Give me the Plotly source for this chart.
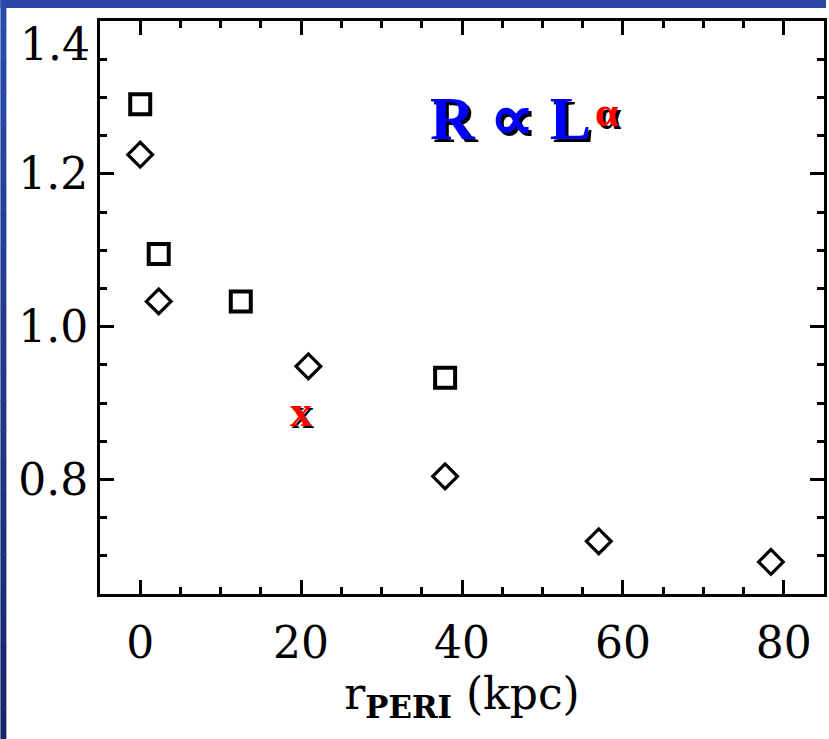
import plotly.graph_objects as go

# ---- data ----
square_x = [0.0, 2.3, 12.5, 37.9]
square_y = [1.291, 1.095, 1.033, 0.933]
diamond_x = [0.0, 2.3, 20.9, 37.9, 57.0, 78.4]
diamond_y = [1.225, 1.033, 0.948, 0.804, 0.719, 0.692]
cross_x = [20.0]
cross_y = [0.889]
x_ticks = [0, 20, 40, 60, 80]
y_ticks = [0.8, 1.0, 1.2]
y_top_label = 1.4

W, H = 829, 739
L, R, T, B = 100, 2, 21, 145
pw, ph = W - L - R, H - T - B

TICKFONT = dict(family="DejaVu Serif", size=44, color="black")

fig = go.Figure()
fig.add_trace(go.Scatter(
    x=square_x, y=square_y, mode="markers",
    marker=dict(symbol="square-open", size=20, color="black", line=dict(width=4, color="black")),
    showlegend=False, hoverinfo="skip"))
fig.add_trace(go.Scatter(
    x=diamond_x, y=diamond_y, mode="markers",
    marker=dict(symbol="diamond-open", size=19, color="black", line=dict(width=3.2, color="black")),
    showlegend=False, hoverinfo="skip"))

annotations = []
# red x marker with shadow
for cx, cy in zip(cross_x, cross_y):
    annotations.append(dict(x=cx, y=cy, xref="x", yref="y", text="<b>x</b>", showarrow=False,
                            font=dict(family="Liberation Serif", size=44, color="black"),
                            xshift=2, yshift=-2))
    annotations.append(dict(x=cx, y=cy, xref="x", yref="y", text="<b>x</b>", showarrow=False,
                            font=dict(family="Liberation Serif", size=44, color="red")))

# R ∝ L^α label with shadow
def px2paper_x(px):
    return (px - L) / pw
def px2paper_y(py):
    return (H - B - py) / ph

main_x, main_y = px2paper_x(595), px2paper_y(118)
alpha_x, alpha_y = px2paper_x(595), px2paper_y(112)
for dx, dy, col_main, col_alpha in [(3, -3, "black", "black"), (0, 0, "blue", "red")]:
    annotations.append(dict(x=main_x, y=main_y, xref="paper", yref="paper", showarrow=False,
                            text="<b>R ∝ L</b>", xanchor="right", yanchor="middle",
                            font=dict(family="Liberation Serif", size=62, color=col_main),
                            xshift=dx, yshift=dy))
    annotations.append(dict(x=alpha_x, y=alpha_y, xref="paper", yref="paper", showarrow=False,
                            text="<b>α</b>", xanchor="left", yanchor="middle",
                            font=dict(family="Liberation Serif", size=42, color=col_alpha),
                            xshift=dx, yshift=dy))

# top y tick label (drawn slightly below the frame corner, as in the reference)
annotations.append(dict(x=0, y=y_top_label, xref="paper", yref="y", showarrow=False,
                        text=f"{y_top_label:.1f}", xanchor="right", yanchor="middle",
                        xshift=-8, yshift=-23, font=TICKFONT))

# decorative blue border (slide background)
shapes = []
shapes.append(dict(type="rect", xref="paper", yref="paper",
                   x0=px2paper_x(0), x1=px2paper_x(W), y0=px2paper_y(8), y1=px2paper_y(0),
                   fillcolor="#2a47a6", line=dict(width=0)))
nseg = 24
c_top = (43, 74, 172)
c_bot = (22, 40, 105)
for i in range(nseg):
    t = i / (nseg - 1)
    c = tuple(int(round(a + (b - a) * t)) for a, b in zip(c_top, c_bot))
    shapes.append(dict(type="rect", xref="paper", yref="paper",
                       x0=px2paper_x(0), x1=px2paper_x(6),
                       y0=px2paper_y(H * (i + 1) / nseg + 0.5), y1=px2paper_y(H * i / nseg),
                       fillcolor=f"rgb{c}", line=dict(width=0)))

axis_common = dict(showline=True, linewidth=3, linecolor="black", mirror="allticks",
                   ticks="inside", tickwidth=3, tickcolor="black", ticklen=14,
                   showgrid=False, zeroline=False, tickfont=TICKFONT)

fig.update_layout(
    width=W, height=H,
    margin=dict(l=L, r=R, t=T, b=B),
    paper_bgcolor="white", plot_bgcolor="white",
    annotations=annotations, shapes=shapes,
    xaxis=dict(range=[-5, 85], tickvals=x_ticks, ticktext=[str(v) for v in x_ticks],
               ticklabelstandoff=8,
               minor=dict(dtick=5, tick0=0, ticks="inside", ticklen=7, tickwidth=3, tickcolor="black"),
               title=dict(text="r<sub><b>PERI</b></sub> (kpc)",
                          font=dict(family="DejaVu Serif", size=44, color="black"), standoff=12),
               **axis_common),
    yaxis=dict(range=[0.65, 1.4], tickvals=y_ticks, ticktext=[f"{v:.1f}" for v in y_ticks],
               minor=dict(dtick=0.05, tick0=0, ticks="inside", ticklen=7, tickwidth=3, tickcolor="black"),
               **axis_common),
)

fig.write_html("out.html")
